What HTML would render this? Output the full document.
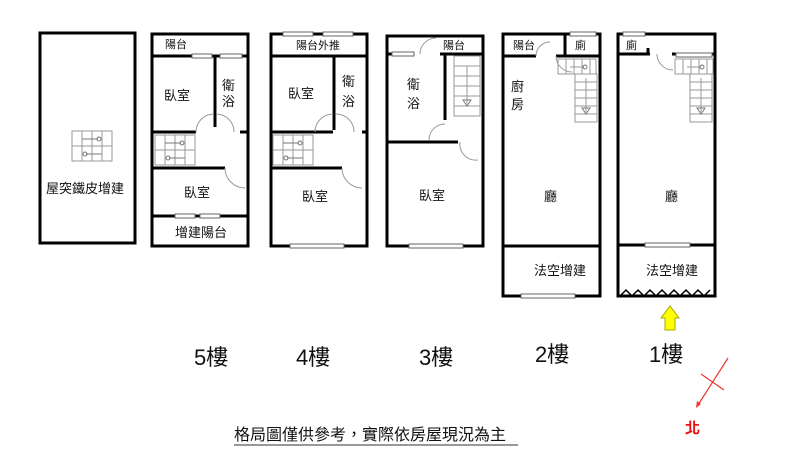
<!DOCTYPE html>
<html><head><meta charset="utf-8"><style>
body{margin:0;background:#fff;width:800px;height:450px;overflow:hidden}
svg{display:block}
text{font-family:"Liberation Sans","Noto Sans CJK TC",sans-serif;fill:#111}
</style></head><body>
<svg width="800" height="450" viewBox="0 0 800 450">
<defs>
<g id="stair">
<rect x="0" y="0" width="40" height="30" fill="none" stroke="#999" stroke-width="1"/>
<path d="M10 0V30M20 0V30M30 0V30M0 15H40" stroke="#999" stroke-width="1"/>
<path d="M10 8H26M14 23H30" stroke="#777" stroke-width="1"/>
<circle cx="27" cy="8" r="2" fill="none" stroke="#777"/><circle cx="13" cy="23" r="2" fill="none" stroke="#777"/>
</g>
<g id="stairh">
<rect x="0" y="0" width="38" height="15" fill="none" stroke="#999"/>
<path d="M8 0V15M16 0V15M24 0V15M32 0V15M12 8H26" stroke="#999"/>
<circle cx="27" cy="8" r="2" fill="none" stroke="#777"/>
</g>
<g id="stairv">
<rect x="0" y="0" width="22" height="48" fill="none" stroke="#999"/>
<path d="M0 8H22M0 16H22M0 24H22M0 32H22M0 40H22M11 4V38" stroke="#999"/>
<path d="M7 34L11 40L15 34Z" fill="none" stroke="#777"/>
</g>
<g id="stairv3">
<rect x="0" y="0" width="26" height="60" fill="none" stroke="#999"/>
<path d="M0 10H26M0 20H26M0 30H26M0 40H26M0 50H26M13 10V48" stroke="#999"/>
<path d="M9 44L13 50L17 44Z" fill="none" stroke="#777"/>
</g>
</defs>
<g fill="none" stroke="#000" stroke-width="3">
<rect x="40" y="33" width="95" height="210"/>
<rect x="152" y="34" width="96" height="212"/>
<path d="M152 56H248M215 56V127M152 132H196M240 132H248M152 168H225M152 216H248"/>
<rect x="271" y="34" width="96" height="212"/>
<path d="M271 56H367M334 56V130M271 132H333M362 132H367M271 168H342" />
<rect x="387" y="36" width="96" height="210"/>
<path d="M387 54H403M440 54H483M445 54V120M387 142H458"/>
<rect x="503" y="34" width="97" height="262"/>
<path d="M503 56H536M556 56H600M565 34V56M503 246H600"/>
<rect x="618" y="34" width="97" height="262"/>
<path d="M618 54H650M672 54H715M648 48V54M618 245H645M690 245H715"/>
</g>
<g fill="#fff" stroke="#666" stroke-width="1">
<rect x="192" y="54" width="20" height="4"/><rect x="220" y="54" width="22" height="4"/>
<rect x="175" y="214" width="20" height="4"/><rect x="200" y="214" width="20" height="4"/>
<rect x="283" y="32" width="30" height="4"/><rect x="323" y="32" width="30" height="4"/>
<rect x="290" y="244" width="54" height="4"/>
<rect x="392" y="52" width="22" height="4"/><rect x="409" y="244" width="54" height="4"/>
<rect x="570" y="32" width="26" height="4"/><rect x="521" y="294" width="54" height="4"/>
<rect x="623" y="32" width="22" height="4"/><rect x="676" y="53" width="36" height="4"/>
<rect x="645" y="243" width="45" height="4"/>
</g>
<g fill="none" stroke="#999" stroke-width="1">
<path d="M196 132A18 18 0 0 1 214 114M216 114A18 18 0 0 1 234 132M225 168A20 20 0 0 0 245 188"/>
<path d="M315 132A18 18 0 0 1 333 114M336 114A18 18 0 0 1 354 132M342 168A20 20 0 0 0 362 188"/>
<path d="M420 54A16 16 0 0 1 436 38M429 140A16 16 0 0 1 445 124M460 142A16 16 0 0 0 478 160"/>
<path d="M536 56A14 14 0 0 1 550 42M556 56A16 16 0 0 0 572 72M657 54A16 16 0 0 0 673 70"/>
</g>
<use href="#stair" x="72" y="131"/>
<use href="#stair" x="155" y="135"/>
<use href="#stair" x="273" y="135"/>
<use href="#stairv3" x="454" y="56"/>
<use href="#stairh" x="558" y="59"/>
<use href="#stairv" x="575" y="74"/>
<use href="#stairh" x="675" y="59"/>
<use href="#stairv" x="690" y="74"/>
<path d="M620 296l6-6 6 6 6-6 6 6 6-6 6 6 6-6 6 6 6-6 6 6 6-6 6 6 6-6 6 6 6-6" fill="none" stroke="#000" stroke-width="1.5"/>
<g font-size="13">
<text x="46" y="193">屋突鐵皮增建</text>
<text x="165" y="48" font-size="11">陽台</text>
<text x="164" y="100">臥室</text>
<text x="222" y="90">衛</text><text x="222" y="106">浴</text>
<text x="184" y="197">臥室</text>
<text x="175" y="237">增建陽台</text>
<text x="296" y="49" font-size="11">陽台外推</text>
<text x="288" y="98">臥室</text>
<text x="342" y="86">衛</text><text x="342" y="106">浴</text>
<text x="302" y="201">臥室</text>
<text x="443" y="49" font-size="11">陽台</text>
<text x="407" y="89">衛</text><text x="407" y="108">浴</text>
<text x="419" y="200">臥室</text>
<text x="513" y="49" font-size="11">陽台</text>
<text x="575" y="49" font-size="11">廁</text>
<text x="511" y="91">廚</text><text x="511" y="109">房</text>
<text x="544" y="201">廳</text>
<text x="534" y="275">法空增建</text>
<text x="626" y="49" font-size="11">廁</text>
<text x="665" y="201">廳</text>
<text x="646" y="275">法空增建</text>
</g>
<path d="M665 330V318H661L670 306L679 318H675V330Z" fill="#ff0" stroke="#aa0" stroke-width="1"/>
<g font-size="22">
<text x="194" y="365">5樓</text>
<text x="296" y="365">4樓</text>
<text x="419" y="365">3樓</text>
<text x="535" y="362">2樓</text>
<text x="649" y="362">1樓</text>
</g>
<path d="M728 358L698 405M701 374L724 390" stroke="#e33" stroke-width="1.2"/>
<path d="M696 408l1-7 4 3z" fill="#e33"/>
<text x="685" y="433" font-size="15" font-weight="bold" style="fill:#e11">北</text>
<text x="234" y="440" font-size="16">格局圖僅供參考，實際依房屋現況為主</text>
<line x1="234" y1="445" x2="518" y2="445" stroke="#333" stroke-width="1"/>
</svg>
</body></html>
